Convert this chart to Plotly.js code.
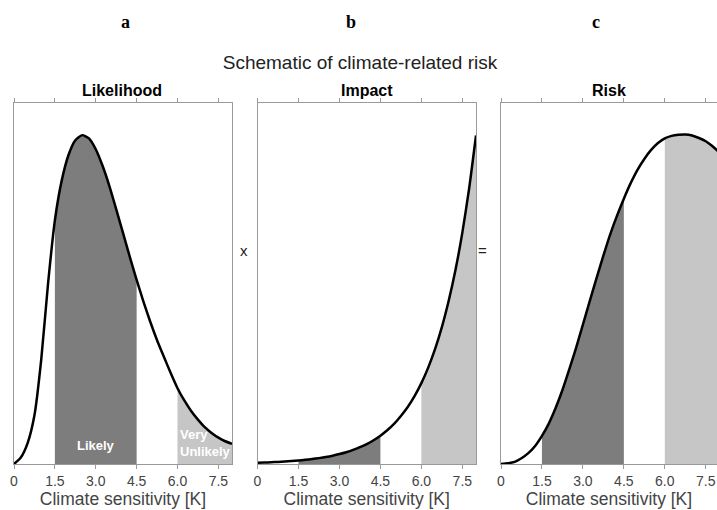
<!DOCTYPE html>
<html>
<head>
<meta charset="utf-8">
<script src="https://cdn.plot.ly/plotly-3.0.1.min.js"></script>
<style>html,body{margin:0;padding:0;background:#fff;}#chart{width:717px;height:510px;}</style>
</head>
<body>
<div id="chart"></div>
<script>
// Climate sensitivity grid [K]
const sensitivity = [0,0.25,0.5,0.75,1,1.25,1.5,1.75,2,2.25,2.5,2.75,3,3.25,3.5,3.75,4,4.25,4.5,4.75,5,5.25,5.5,5.75,6,6.25,6.5,6.75,7,7.25,7.5,7.75,8];
// Panel a: likelihood (relative)
const likelihood = [0,0.018,0.058,0.135,0.29,0.5,0.675,0.785,0.856,0.897,0.911,0.902,0.872,0.826,0.77,0.706,0.64,0.574,0.51,0.45,0.394,0.343,0.297,0.252,0.21,0.176,0.147,0.123,0.102,0.086,0.073,0.063,0.056];
// Panel b: impact (relative)
const impact = [0.0034,0.004,0.0048,0.0057,0.0068,0.0081,0.0096,0.0115,0.0137,0.0163,0.0194,0.0231,0.0275,0.0327,0.039,0.0465,0.0553,0.0659,0.0785,0.0935,0.111,0.133,0.158,0.188,0.224,0.267,0.318,0.379,0.452,0.538,0.641,0.764,0.91];
// Panel c: risk (relative)
const risk = [0,0.002,0.006,0.016,0.03,0.05,0.078,0.112,0.155,0.205,0.262,0.322,0.386,0.451,0.515,0.577,0.636,0.688,0.735,0.778,0.815,0.845,0.87,0.889,0.902,0.909,0.912,0.913,0.91,0.903,0.894,0.88,0.863];
// Shaded ranges
const likelyRange = [1.5, 4.5];
const veryUnlikelyRange = [6.0, 8.0];
const tickVals = [0,1.5,3,4.5,6,7.5];
const tickText = ['0','1.5','3.0','4.5','6.0','7.5'];
const panelTitles = ['Likelihood','Impact','Risk'];
const panelLetters = ['a','b','c'];
const mainTitle = 'Schematic of climate-related risk';
const xTitle = 'Climate sensitivity [K]';

const dark = '#7d7d7d', light = '#c6c6c6';
function sub(ys, r){
  const xs=[], yy=[];
  sensitivity.forEach((x,i)=>{ if(x>=r[0]-1e-9 && x<=r[1]+1e-9){ xs.push(x); yy.push(ys[i]); } });
  return {x:xs, y:yy};
}
const series = [likelihood, impact, risk];
const traces = [];
series.forEach((ys,k)=>{
  const ax = k===0 ? '' : String(k+1);
  const a = sub(ys, likelyRange), b = sub(ys, veryUnlikelyRange);
  traces.push({x:a.x, y:a.y, type:'scatter', mode:'lines', fill:'tozeroy', fillcolor:dark, line:{width:0, shape:'spline', smoothing:0.6}, xaxis:'x'+ax, yaxis:'y'+ax, hoverinfo:'skip'});
  traces.push({x:b.x, y:b.y, type:'scatter', mode:'lines', fill:'tozeroy', fillcolor:light, line:{width:0, shape:'spline', smoothing:0.6}, xaxis:'x'+ax, yaxis:'y'+ax, hoverinfo:'skip'});
  traces.push({x:sensitivity, y:ys, type:'scatter', mode:'lines', line:{color:'#000', width:2.5, shape:'spline', smoothing:0.6}, xaxis:'x'+ax, yaxis:'y'+ax, hoverinfo:'skip'});
});

const W=717, H=510;
const FONT = 'Liberation Sans, Arial, sans-serif';
const yDom = [(H-464)/H, (H-103)/H];
const xDoms = [[14/W, 232/W],[257.5/W, 476/W],[501/W, 1]];
const xRanges = [[0,8],[0,8],[0,(717-501)/27.3]];
function xaxis(k){
  return {domain:xDoms[k], range:xRanges[k], tickvals:tickVals, ticktext:tickText,
    showgrid:false, zeroline:false, showline:true, linecolor:'#9a9a9a', linewidth:1,
    mirror:'ticks', ticks:'outside', ticklen:4, tickcolor:'#9a9a9a', tickwidth:1,
    tickfont:{family:FONT, size:14, color:'#444'},
    title:{text:xTitle, font:{family:FONT, size:17.5, color:'#444'}, standoff:2},
    anchor: k===0?'y':'y'+(k+1), fixedrange:true};
}
function yaxis(k){
  return {domain:yDom, range:[0,1], showgrid:false, zeroline:false, showticklabels:false, ticks:'',
    showline:true, linecolor:'#9a9a9a', linewidth:1, mirror: k<2 ? true : false,
    anchor: k===0?'x':'x'+(k+1), fixedrange:true};
}
const ann = [];
const letterX = [125, 351, 596];
panelLetters.forEach((t,i)=>ann.push({text:'<b>'+t+'</b>', x:letterX[i]/W, y:(H-22)/H, xref:'paper', yref:'paper', showarrow:false,
  font:{family:'Liberation Serif, Times New Roman, serif', size:18, color:'#000'}, xanchor:'center', yanchor:'middle'}));
const titleX = [122, 367, 609];
panelTitles.forEach((t,i)=>ann.push({text:'<b>'+t+'</b>', x:titleX[i]/W, y:(H-90)/H, xref:'paper', yref:'paper', showarrow:false,
  font:{family:FONT, size:16, color:'#000'}, xanchor:'center', yanchor:'middle'}));
ann.push({text:'x', x:244/W, y:(H-250)/H, xref:'paper', yref:'paper', showarrow:false, font:{family:FONT, size:15, color:'#222'}});
ann.push({text:'=', x:489/W, y:(H-250)/H, xref:'paper', yref:'paper', showarrow:false, font:{family:FONT, size:15, color:'#222'}});
ann.push({text:'<b>Likely</b>', x:3.0, y:0.05, xref:'x', yref:'y', showarrow:false, font:{family:FONT, size:13, color:'#fff'}, yanchor:'middle'});
ann.push({text:'<b>Very<br>Unlikely</b>', x:6.03, y:0.058, xref:'x', yref:'y', showarrow:false, xanchor:'left', align:'left', font:{family:FONT, size:13, color:'#fff'}, yanchor:'middle'});

const layout = {
  width:W, height:H, margin:{l:0,r:0,t:0,b:0}, paper_bgcolor:'#fff', plot_bgcolor:'#fff', showlegend:false,
  title:{text:mainTitle, x:360/W, xanchor:'center', y:(H-62)/H, yanchor:'middle', font:{family:FONT, size:19, color:'#222'}},
  xaxis:xaxis(0), xaxis2:xaxis(1), xaxis3:xaxis(2),
  yaxis:yaxis(0), yaxis2:yaxis(1), yaxis3:yaxis(2),
  annotations:ann
};
Plotly.newPlot('chart', traces, layout, {displayModeBar:false, staticPlot:true});
</script>
</body>
</html>
